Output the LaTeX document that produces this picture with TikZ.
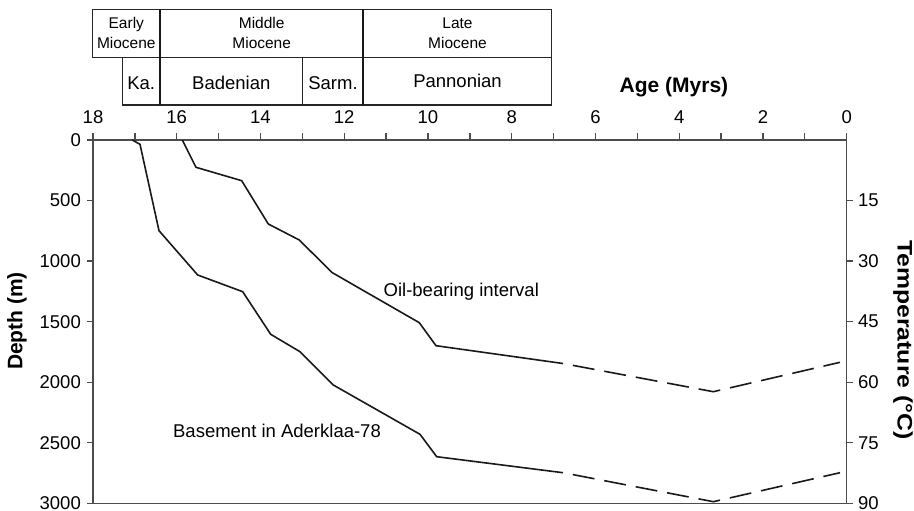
\documentclass[tikz,border=0pt]{standalone}
\usepackage{fontspec}
\setmainfont{Liberation Sans}
\begin{document}
\begin{tikzpicture}[x=1pt,y=-1pt,
  ax/.style={line width=1.3pt, draw=black!70},
  crv/.style={line width=1.6pt, draw=black!90, line join=miter},
  dsh/.style={crv, dash pattern=on 22pt off 10pt, dash phase=22pt},
  lab/.style={font=\fontsize{18.5}{20}\selectfont, inner sep=0pt},
  small/.style={font=\fontsize{15.5}{19.5}\selectfont, inner sep=0pt, align=center},
  ttl/.style={font=\fontsize{21}{23}\selectfont\bfseries, inner sep=0pt},
  bx/.style={line width=1.3pt, draw=black!85},
  bxk/.style={line width=2.2pt, draw=black!90}]
\useasboundingbox (0,0) rectangle (914,511);
\pgfmathsetmacro{\xo}{846.7}
\pgfmathsetmacro{\sx}{41.872}
\pgfmathsetmacro{\sy}{0.12111}
% stratigraphic chart
\draw[bx] (92.7,9.3) rectangle (160,57.3);
\draw[bx] (160,9.3) rectangle (363.3,57.3);
\draw[bx] (363.3,9.3) rectangle (551.7,57.3);
\draw[bx] (122.3,57.3) rectangle (160,105);
\draw[bx] (160,57.3) rectangle (302.7,105);
\draw[bx] (302.7,57.3) rectangle (363.3,105);
\draw[bx] (363.3,57.3) rectangle (551.7,105);
\draw[bxk] (160,9.3) -- (160,105);
\draw[bxk] (363.3,9.3) -- (363.3,105);
\node[small] (em) at (126.3,33) {Early\\Miocene};
\node[small] (mm) at (261.7,33) {Middle\\Miocene};
\node[small] (lm) at (457.5,33) {Late\\Miocene};
\node[lab] (ka) at (141.2,83) {Ka.};
\node[lab] (bad) at (231.3,83) {Badenian};
\node[lab] (sar) at (333,83) {Sarm.};
\node[lab] (pan) at (457.5,81) {Pannonian};
% frame
\draw[ax] (93,140) rectangle (846.7,503.3);
% top axis
\foreach \a in {0,...,18} \draw[ax] ({\xo-\sx*\a},140) -- ++(0,-7);
\foreach \a in {0,2,...,18} \node[lab] (ta\a) at ({\xo-\sx*\a},117) {\a};
\node[ttl] (age) at (674,87) {Age (Myrs)};
% left axis
\foreach \d in {0,500,...,3000} {
  \draw[ax] (93,{140+\sy*\d}) -- ++(-6,0);
  \node[lab, anchor=east] (ld\d) at (81,{140+\sy*\d}) {\d};
}
\node[ttl, rotate=90] (dep) at (17,321) {Depth (m)};
% right axis
\foreach \t [count=\i] in {15,30,...,90} {
  \draw[ax] (846.7,{140+60.555*\i}) -- ++(6,0);
  \node[lab, anchor=west] (rt\t) at (858,{140+60.555*\i}) {\t};
}
\node[ttl, rotate=-90] (tmp) at (903,340) {\scalebox{1.18}[1]{Temperature (°C)}};
% curves
\coordinate (o0) at (182.3,140);
\coordinate (oe) at (563,363.5);
\coordinate (om) at (713.3,391.7);
\coordinate (of) at (840,362.3);
\draw[crv] (o0) -- (196,167.3) -- (241.7,180.7) -- (268.3,224) -- (299.3,240) -- (332,272.5) -- (419.3,322.7) -- (436,345.7) -- (oe);
\draw[dsh] (oe) -- (om) -- (of);
\coordinate (b0) at (132.3,140);
\coordinate (be) at (563,472.7);
\coordinate (bm) at (713.3,501.7);
\coordinate (bf) at (840,472.7);
\draw[crv] (b0) -- (140,144.3) -- (159,230.7) -- (197.7,275) -- (242.7,291.7) -- (270.7,334.3) -- (300,351.7) -- (333.3,385) -- (420,434.3) -- (436.7,456.7) -- (be);
\draw[dsh] (be) -- (bm) -- (bf);
\node[lab] (oil) at (461.3,291.5) {Oil-bearing interval};
\node[lab] (bas) at (277,431) {Basement in Aderklaa-78};
\end{tikzpicture}
\end{document}
